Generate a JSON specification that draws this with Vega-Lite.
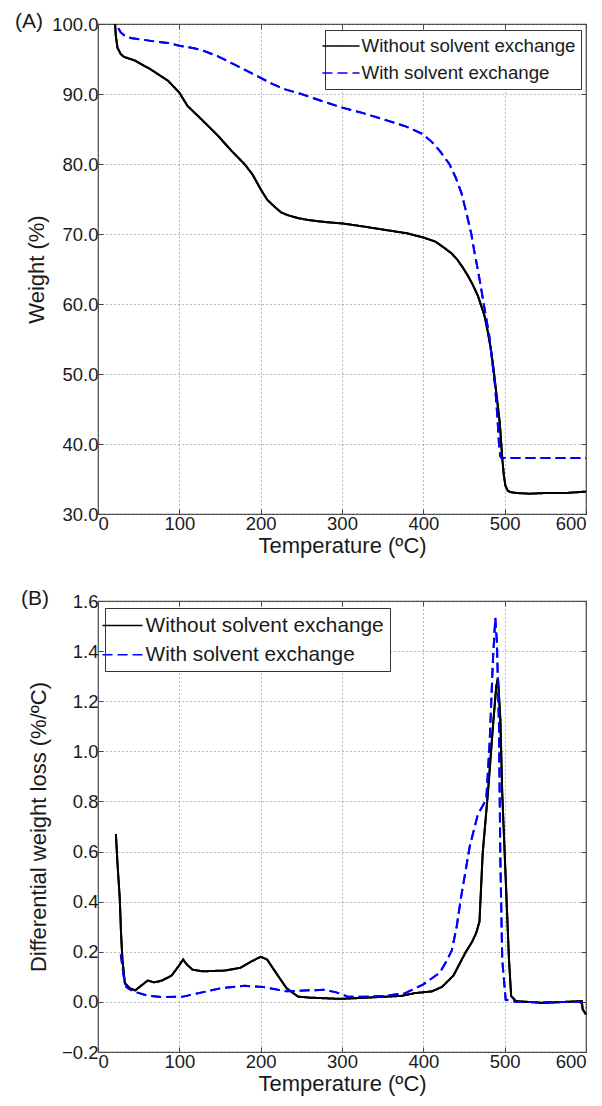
{
  "$schema": "https://vega.github.io/schema/vega-lite/v6.json",
  "autosize": {"type": "pad"},
  "padding": {"left": 14, "top": 10, "right": 15, "bottom": 0},
  "background": "white",
  "spacing": 29,
  "config": {
    "font": "Liberation Sans",
    "view": {"stroke": "#444", "strokeWidth": 1.2},
    "axis": {
      "labelFont": "Liberation Sans",
      "titleFont": "Liberation Sans",
      "labelFontSize": 18.5,
      "titleFontSize": 22,
      "titleFontWeight": "normal",
      "labelColor": "#1a1a1a",
      "titleColor": "#1a1a1a",
      "grid": true,
      "gridDash": [1, 3],
      "gridColor": "#777",
      "gridWidth": 1,
      "domain": false,
      "ticks": true,
      "tickSize": -5,
      "tickColor": "#444",
      "labelPadding": 5
    },
    "axisX": {"titlePadding": 3},
    "legend": {
      "labelFont": "Liberation Sans",
      "labelColor": "#1a1a1a",
      "strokeColor": "#333",
      "fillColor": "white",
      "symbolStrokeWidth": 1.5,
      "cornerRadius": 0,
      "labelLimit": 400
    },
    "title": {"font": "Liberation Sans", "fontWeight": "normal", "color": "#1a1a1a"}
  },
  "resolve": {
    "scale": {"color": "independent", "strokeDash": "independent"},
    "legend": {"color": "independent", "strokeDash": "independent"}
  },
  "datasets": {
    "tga": [
      {"T": 21, "W": 100, "s": "Without solvent exchange"},
      {"T": 22, "W": 98.2, "s": "Without solvent exchange"},
      {"T": 24, "W": 96.6, "s": "Without solvent exchange"},
      {"T": 28, "W": 95.7, "s": "Without solvent exchange"},
      {"T": 32, "W": 95.3, "s": "Without solvent exchange"},
      {"T": 45, "W": 94.8, "s": "Without solvent exchange"},
      {"T": 65, "W": 93.5, "s": "Without solvent exchange"},
      {"T": 86, "W": 91.9, "s": "Without solvent exchange"},
      {"T": 100, "W": 90.2, "s": "Without solvent exchange"},
      {"T": 110, "W": 88.3, "s": "Without solvent exchange"},
      {"T": 127, "W": 86.4, "s": "Without solvent exchange"},
      {"T": 147, "W": 84.1, "s": "Without solvent exchange"},
      {"T": 164, "W": 81.9, "s": "Without solvent exchange"},
      {"T": 180, "W": 80.0, "s": "Without solvent exchange"},
      {"T": 190, "W": 78.5, "s": "Without solvent exchange"},
      {"T": 200, "W": 76.4, "s": "Without solvent exchange"},
      {"T": 208, "W": 74.9, "s": "Without solvent exchange"},
      {"T": 217, "W": 73.9, "s": "Without solvent exchange"},
      {"T": 225, "W": 73.1, "s": "Without solvent exchange"},
      {"T": 233, "W": 72.7, "s": "Without solvent exchange"},
      {"T": 245, "W": 72.3, "s": "Without solvent exchange"},
      {"T": 258, "W": 72.0, "s": "Without solvent exchange"},
      {"T": 280, "W": 71.7, "s": "Without solvent exchange"},
      {"T": 301, "W": 71.5, "s": "Without solvent exchange"},
      {"T": 325, "W": 71.1, "s": "Without solvent exchange"},
      {"T": 352, "W": 70.6, "s": "Without solvent exchange"},
      {"T": 380, "W": 70.1, "s": "Without solvent exchange"},
      {"T": 400, "W": 69.5, "s": "Without solvent exchange"},
      {"T": 415, "W": 68.9, "s": "Without solvent exchange"},
      {"T": 426, "W": 68.0, "s": "Without solvent exchange"},
      {"T": 435, "W": 67.2, "s": "Without solvent exchange"},
      {"T": 442, "W": 66.3, "s": "Without solvent exchange"},
      {"T": 448, "W": 65.3, "s": "Without solvent exchange"},
      {"T": 455, "W": 64.0, "s": "Without solvent exchange"},
      {"T": 461, "W": 62.7, "s": "Without solvent exchange"},
      {"T": 467, "W": 61.2, "s": "Without solvent exchange"},
      {"T": 471, "W": 59.8, "s": "Without solvent exchange"},
      {"T": 475, "W": 58.4, "s": "Without solvent exchange"},
      {"T": 479, "W": 56.2, "s": "Without solvent exchange"},
      {"T": 483, "W": 53.6, "s": "Without solvent exchange"},
      {"T": 486, "W": 51.0, "s": "Without solvent exchange"},
      {"T": 490, "W": 47.0, "s": "Without solvent exchange"},
      {"T": 494, "W": 43.0, "s": "Without solvent exchange"},
      {"T": 497, "W": 38.0, "s": "Without solvent exchange"},
      {"T": 499, "W": 35.5, "s": "Without solvent exchange"},
      {"T": 501, "W": 34.0, "s": "Without solvent exchange"},
      {"T": 504, "W": 33.3, "s": "Without solvent exchange"},
      {"T": 508, "W": 33.1, "s": "Without solvent exchange"},
      {"T": 515, "W": 33.0, "s": "Without solvent exchange"},
      {"T": 530, "W": 32.9, "s": "Without solvent exchange"},
      {"T": 550, "W": 33.0, "s": "Without solvent exchange"},
      {"T": 575, "W": 33.0, "s": "Without solvent exchange"},
      {"T": 600, "W": 33.2, "s": "Without solvent exchange"},
      {"T": 25, "W": 99.4, "s": "With solvent exchange"},
      {"T": 28, "W": 98.8, "s": "With solvent exchange"},
      {"T": 32, "W": 98.4, "s": "With solvent exchange"},
      {"T": 40, "W": 98.0, "s": "With solvent exchange"},
      {"T": 53, "W": 97.8, "s": "With solvent exchange"},
      {"T": 70, "W": 97.5, "s": "With solvent exchange"},
      {"T": 86, "W": 97.3, "s": "With solvent exchange"},
      {"T": 100, "W": 96.9, "s": "With solvent exchange"},
      {"T": 115, "W": 96.6, "s": "With solvent exchange"},
      {"T": 127, "W": 96.3, "s": "With solvent exchange"},
      {"T": 147, "W": 95.4, "s": "With solvent exchange"},
      {"T": 168, "W": 94.2, "s": "With solvent exchange"},
      {"T": 185, "W": 93.2, "s": "With solvent exchange"},
      {"T": 200, "W": 92.3, "s": "With solvent exchange"},
      {"T": 215, "W": 91.4, "s": "With solvent exchange"},
      {"T": 229, "W": 90.7, "s": "With solvent exchange"},
      {"T": 250, "W": 90.0, "s": "With solvent exchange"},
      {"T": 275, "W": 89.0, "s": "With solvent exchange"},
      {"T": 299, "W": 88.1, "s": "With solvent exchange"},
      {"T": 325, "W": 87.3, "s": "With solvent exchange"},
      {"T": 356, "W": 86.2, "s": "With solvent exchange"},
      {"T": 380, "W": 85.3, "s": "With solvent exchange"},
      {"T": 399, "W": 84.3, "s": "With solvent exchange"},
      {"T": 410, "W": 83.2, "s": "With solvent exchange"},
      {"T": 420, "W": 81.9, "s": "With solvent exchange"},
      {"T": 432, "W": 80.0, "s": "With solvent exchange"},
      {"T": 440, "W": 78.0, "s": "With solvent exchange"},
      {"T": 447, "W": 75.8, "s": "With solvent exchange"},
      {"T": 453, "W": 73.0, "s": "With solvent exchange"},
      {"T": 459, "W": 70.0, "s": "With solvent exchange"},
      {"T": 463, "W": 67.3, "s": "With solvent exchange"},
      {"T": 467, "W": 64.9, "s": "With solvent exchange"},
      {"T": 471, "W": 62.3, "s": "With solvent exchange"},
      {"T": 474, "W": 60.2, "s": "With solvent exchange"},
      {"T": 478, "W": 57.5, "s": "With solvent exchange"},
      {"T": 481, "W": 55.5, "s": "With solvent exchange"},
      {"T": 485, "W": 51.5, "s": "With solvent exchange"},
      {"T": 488, "W": 48.5, "s": "With solvent exchange"},
      {"T": 491, "W": 44.0, "s": "With solvent exchange"},
      {"T": 493, "W": 40.0, "s": "With solvent exchange"},
      {"T": 494.5, "W": 38.3, "s": "With solvent exchange"},
      {"T": 496, "W": 38.0, "s": "With solvent exchange"},
      {"T": 520, "W": 38.0, "s": "With solvent exchange"},
      {"T": 550, "W": 38.0, "s": "With solvent exchange"},
      {"T": 600, "W": 38.0, "s": "With solvent exchange"}
    ],
    "dtg": [
      {"T": 22, "d": 0.67, "s": "Without solvent exchange"},
      {"T": 24, "d": 0.55, "s": "Without solvent exchange"},
      {"T": 26.8, "d": 0.41, "s": "Without solvent exchange"},
      {"T": 28.3, "d": 0.276, "s": "Without solvent exchange"},
      {"T": 30, "d": 0.17, "s": "Without solvent exchange"},
      {"T": 33, "d": 0.075, "s": "Without solvent exchange"},
      {"T": 38.6, "d": 0.055, "s": "Without solvent exchange"},
      {"T": 45.7, "d": 0.046, "s": "Without solvent exchange"},
      {"T": 52.8, "d": 0.064, "s": "Without solvent exchange"},
      {"T": 61, "d": 0.085, "s": "Without solvent exchange"},
      {"T": 69, "d": 0.078, "s": "Without solvent exchange"},
      {"T": 78.7, "d": 0.085, "s": "Without solvent exchange"},
      {"T": 90.4, "d": 0.105, "s": "Without solvent exchange"},
      {"T": 99, "d": 0.142, "s": "Without solvent exchange"},
      {"T": 104.6, "d": 0.169, "s": "Without solvent exchange"},
      {"T": 109.3, "d": 0.149, "s": "Without solvent exchange"},
      {"T": 116, "d": 0.129, "s": "Without solvent exchange"},
      {"T": 128, "d": 0.122, "s": "Without solvent exchange"},
      {"T": 156, "d": 0.125, "s": "Without solvent exchange"},
      {"T": 175, "d": 0.136, "s": "Without solvent exchange"},
      {"T": 189, "d": 0.162, "s": "Without solvent exchange"},
      {"T": 200, "d": 0.18, "s": "Without solvent exchange"},
      {"T": 208, "d": 0.169, "s": "Without solvent exchange"},
      {"T": 217.6, "d": 0.122, "s": "Without solvent exchange"},
      {"T": 231.7, "d": 0.055, "s": "Without solvent exchange"},
      {"T": 246, "d": 0.021, "s": "Without solvent exchange"},
      {"T": 260, "d": 0.017, "s": "Without solvent exchange"},
      {"T": 297.7, "d": 0.012, "s": "Without solvent exchange"},
      {"T": 330.7, "d": 0.017, "s": "Without solvent exchange"},
      {"T": 373, "d": 0.024, "s": "Without solvent exchange"},
      {"T": 389.5, "d": 0.035, "s": "Without solvent exchange"},
      {"T": 410.7, "d": 0.042, "s": "Without solvent exchange"},
      {"T": 423, "d": 0.06, "s": "Without solvent exchange"},
      {"T": 437, "d": 0.105, "s": "Without solvent exchange"},
      {"T": 452, "d": 0.198, "s": "Without solvent exchange"},
      {"T": 460, "d": 0.24, "s": "Without solvent exchange"},
      {"T": 465, "d": 0.275, "s": "Without solvent exchange"},
      {"T": 469, "d": 0.32, "s": "Without solvent exchange"},
      {"T": 473, "d": 0.595, "s": "Without solvent exchange"},
      {"T": 479.4, "d": 0.834, "s": "Without solvent exchange"},
      {"T": 485.6, "d": 1.1, "s": "Without solvent exchange"},
      {"T": 489.7, "d": 1.26, "s": "Without solvent exchange"},
      {"T": 491.8, "d": 1.293, "s": "Without solvent exchange"},
      {"T": 494.7, "d": 1.127, "s": "Without solvent exchange"},
      {"T": 497, "d": 0.834, "s": "Without solvent exchange"},
      {"T": 502, "d": 0.435, "s": "Without solvent exchange"},
      {"T": 505.3, "d": 0.169, "s": "Without solvent exchange"},
      {"T": 508, "d": 0.023, "s": "Without solvent exchange"},
      {"T": 514, "d": 0.003, "s": "Without solvent exchange"},
      {"T": 547, "d": -0.004, "s": "Without solvent exchange"},
      {"T": 594.7, "d": 0.003, "s": "Without solvent exchange"},
      {"T": 596, "d": -0.03, "s": "Without solvent exchange"},
      {"T": 600, "d": -0.05, "s": "Without solvent exchange"},
      {"T": 28, "d": 0.19, "s": "With solvent exchange"},
      {"T": 31.6, "d": 0.102, "s": "With solvent exchange"},
      {"T": 34.9, "d": 0.059, "s": "With solvent exchange"},
      {"T": 43.3, "d": 0.042, "s": "With solvent exchange"},
      {"T": 62, "d": 0.024, "s": "With solvent exchange"},
      {"T": 81, "d": 0.019, "s": "With solvent exchange"},
      {"T": 104.6, "d": 0.021, "s": "With solvent exchange"},
      {"T": 128, "d": 0.038, "s": "With solvent exchange"},
      {"T": 151.7, "d": 0.055, "s": "With solvent exchange"},
      {"T": 180, "d": 0.064, "s": "With solvent exchange"},
      {"T": 203.5, "d": 0.059, "s": "With solvent exchange"},
      {"T": 231.7, "d": 0.042, "s": "With solvent exchange"},
      {"T": 260, "d": 0.046, "s": "With solvent exchange"},
      {"T": 279, "d": 0.048, "s": "With solvent exchange"},
      {"T": 293, "d": 0.038, "s": "With solvent exchange"},
      {"T": 307, "d": 0.021, "s": "With solvent exchange"},
      {"T": 330.7, "d": 0.021, "s": "With solvent exchange"},
      {"T": 354, "d": 0.024, "s": "With solvent exchange"},
      {"T": 377.8, "d": 0.035, "s": "With solvent exchange"},
      {"T": 400, "d": 0.07, "s": "With solvent exchange"},
      {"T": 420, "d": 0.116, "s": "With solvent exchange"},
      {"T": 428, "d": 0.16, "s": "With solvent exchange"},
      {"T": 435, "d": 0.205, "s": "With solvent exchange"},
      {"T": 441, "d": 0.3, "s": "With solvent exchange"},
      {"T": 446, "d": 0.41, "s": "With solvent exchange"},
      {"T": 457, "d": 0.62, "s": "With solvent exchange"},
      {"T": 467, "d": 0.748, "s": "With solvent exchange"},
      {"T": 477.4, "d": 0.808, "s": "With solvent exchange"},
      {"T": 481.5, "d": 1.034, "s": "With solvent exchange"},
      {"T": 485.6, "d": 1.367, "s": "With solvent exchange"},
      {"T": 488.5, "d": 1.533, "s": "With solvent exchange"},
      {"T": 490.5, "d": 1.433, "s": "With solvent exchange"},
      {"T": 493, "d": 1.1, "s": "With solvent exchange"},
      {"T": 494.7, "d": 0.568, "s": "With solvent exchange"},
      {"T": 497, "d": 0.169, "s": "With solvent exchange"},
      {"T": 501.2, "d": 0.009, "s": "With solvent exchange"},
      {"T": 514, "d": 0.0, "s": "With solvent exchange"},
      {"T": 592.6, "d": 0.0, "s": "With solvent exchange"},
      {"T": 596, "d": -0.01, "s": "With solvent exchange"},
      {"T": 600, "d": -0.024, "s": "With solvent exchange"}
    ]
  },
  "vconcat": [
    {
      "width": 488,
      "height": 490,
      "title": {"text": "(A)", "anchor": "start", "frame": "group", "fontSize": 21, "baseline": "middle", "offset": 0, "dx": -83, "dy": 28},
      "data": {"name": "tga"},
      "encoding": {
        "order": {"field": "T", "type": "quantitative"},
        "color": {"field": "s", "type": "nominal",
                  "scale": {"domain": ["Without solvent exchange", "With solvent exchange"], "range": ["#000000", "#0000ff"]},
                  "legend": {"title": null, "orient": "top-right", "offset": 5.5, "padding": 5.5, "labelFontSize": 18.7, "symbolType": "M-1.95,0L1.95,0", "symbolSize": 361, "rowPadding": 6, "labelOffset": 10}},
        "strokeDash": {"field": "s", "type": "nominal",
                  "scale": {"domain": ["Without solvent exchange", "With solvent exchange"], "range": [[1, 0], [10, 5]]},
                  "legend": {"title": null, "orient": "top-right", "offset": 5.5, "padding": 5.5, "labelFontSize": 18.7, "symbolType": "M-1.95,0L1.95,0", "symbolSize": 361, "rowPadding": 6, "labelOffset": 10}}
      },
      "layer": [
        {
          "mark": {"type": "line", "strokeWidth": 2},
          "encoding": {
            "x": {"field": "T", "type": "quantitative", "scale": {"domain": [0, 600], "nice": false, "zero": false},
                  "axis": {"values": [0, 100, 200, 300, 400, 500, 600], "title": "Temperature (ºC)"}},
            "y": {"field": "W", "type": "quantitative", "scale": {"domain": [30, 100], "nice": false, "zero": false},
                  "axis": {"values": [30, 40, 50, 60, 70, 80, 90, 100], "format": ".1f", "title": "Weight (%)", "titlePadding": 3}}
          }
        },
        {
          "mark": {"type": "line", "strokeWidth": 2},
          "encoding": {
            "x": {"field": "T", "type": "quantitative", "scale": {"domain": [0, 600], "nice": false, "zero": false},
                  "axis": {"orient": "top", "values": [0, 100, 200, 300, 400, 500, 600], "labels": false, "grid": false, "title": null}},
            "y": {"field": "W", "type": "quantitative", "scale": {"domain": [30, 100], "nice": false, "zero": false},
                  "axis": {"orient": "right", "values": [30, 40, 50, 60, 70, 80, 90, 100], "labels": false, "grid": false, "title": null}}
          }
        }
      ],
      "resolve": {"axis": {"x": "independent", "y": "independent"}}
    },
    {
      "width": 488,
      "height": 451,
      "title": {"text": "(B)", "anchor": "start", "frame": "group", "fontSize": 21, "baseline": "middle", "offset": 0, "dx": -77, "dy": 28},
      "data": {"name": "dtg"},
      "encoding": {
        "order": {"field": "T", "type": "quantitative"},
        "color": {"field": "s", "type": "nominal",
                  "scale": {"domain": ["Without solvent exchange", "With solvent exchange"], "range": ["#000000", "#0000ff"]},
                  "legend": {"title": null, "orient": "top-left", "offset": 6.5, "padding": 6, "labelFontSize": 20.8, "symbolType": "M-1.9,0L1.9,0", "symbolSize": 441, "rowPadding": 7.3, "labelOffset": 11.5}},
        "strokeDash": {"field": "s", "type": "nominal",
                  "scale": {"domain": ["Without solvent exchange", "With solvent exchange"], "range": [[1, 0], [10, 5]]},
                  "legend": {"title": null, "orient": "top-left", "offset": 6.5, "padding": 6, "labelFontSize": 20.8, "symbolType": "M-1.9,0L1.9,0", "symbolSize": 441, "rowPadding": 7.3, "labelOffset": 11.5}}
      },
      "layer": [
        {
          "mark": {"type": "line", "strokeWidth": 2},
          "encoding": {
            "x": {"field": "T", "type": "quantitative", "scale": {"domain": [0, 600], "nice": false, "zero": false},
                  "axis": {"values": [0, 100, 200, 300, 400, 500, 600], "title": "Temperature (ºC)"}},
            "y": {"field": "d", "type": "quantitative", "scale": {"domain": [-0.2, 1.6], "nice": false, "zero": false},
                  "axis": {"values": [-0.2, 0, 0.2, 0.4, 0.6, 0.8, 1.0, 1.2, 1.4, 1.6], "format": ".1f", "title": "Differential weight loss (%/ºC)", "titlePadding": 11}}
          }
        },
        {
          "mark": {"type": "line", "strokeWidth": 2},
          "encoding": {
            "x": {"field": "T", "type": "quantitative", "scale": {"domain": [0, 600], "nice": false, "zero": false},
                  "axis": {"orient": "top", "values": [0, 100, 200, 300, 400, 500, 600], "labels": false, "grid": false, "title": null}},
            "y": {"field": "d", "type": "quantitative", "scale": {"domain": [-0.2, 1.6], "nice": false, "zero": false},
                  "axis": {"orient": "right", "values": [-0.2, 0, 0.2, 0.4, 0.6, 0.8, 1.0, 1.2, 1.4, 1.6], "labels": false, "grid": false, "title": null}}
          }
        }
      ],
      "resolve": {"axis": {"x": "independent", "y": "independent"}}
    }
  ]
}
